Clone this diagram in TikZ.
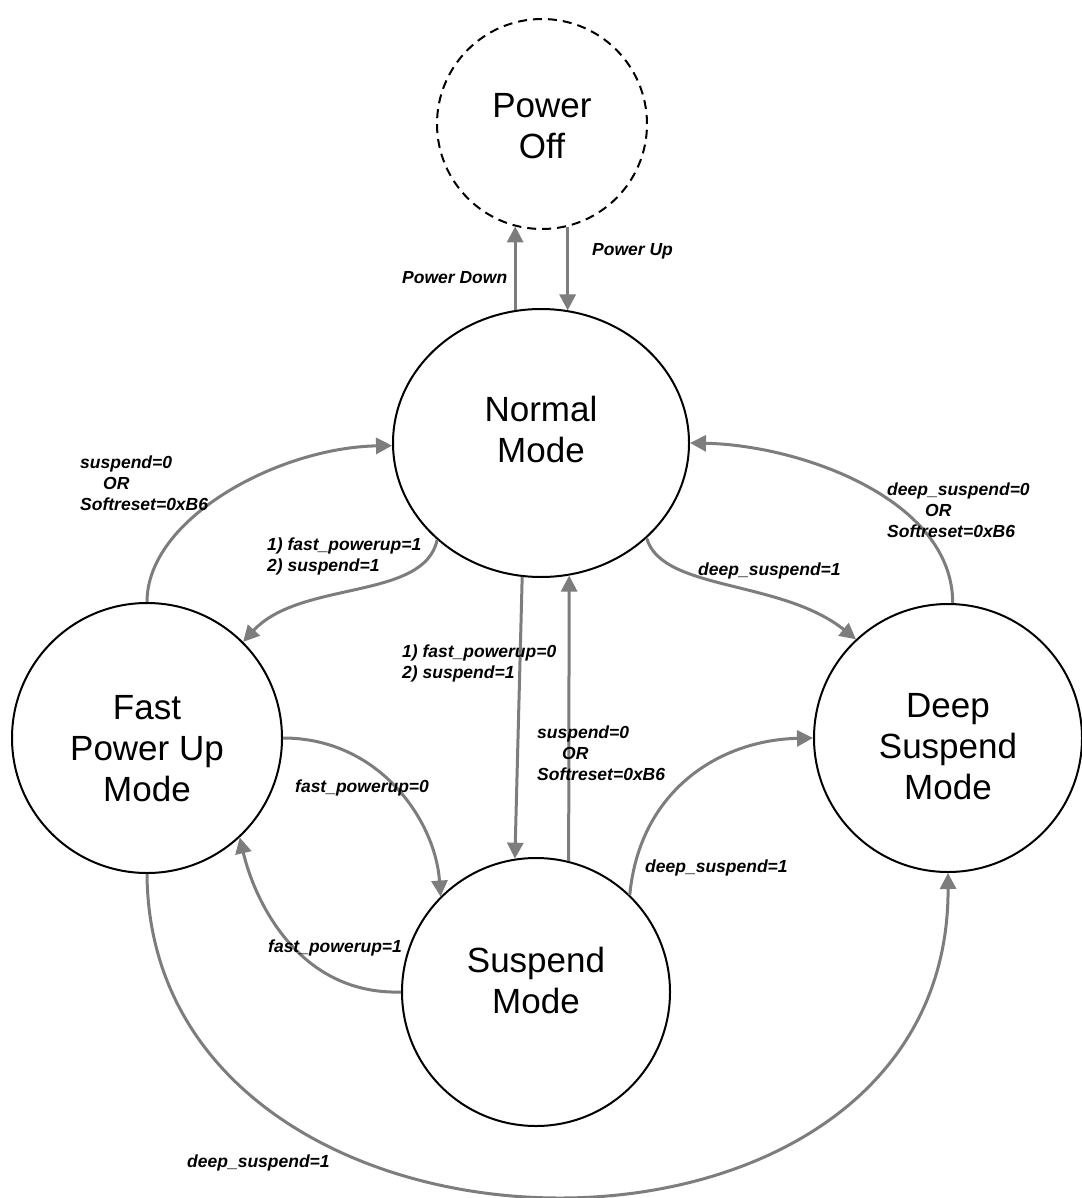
\documentclass[tikz,border=0pt]{standalone}
\usepackage{fontspec}
\setmainfont{Liberation Sans}
\usetikzlibrary{arrows.meta,shapes.geometric}
\definecolor{arrowgray}{RGB}{125,125,125}
\newcommand{\lbltext}[1]{\begin{tabular}[t]{@{}l@{}}#1\end{tabular}}
\begin{document}
\begin{tikzpicture}[x=1pt,y=-1pt,
  state/.style={circle, draw=black, line width=2pt, inner sep=0pt, minimum size=268pt},
  stext/.style={font=\fontsize{35}{41}\selectfont, align=center, inner sep=0pt},
  arr/.style={draw=arrowgray, line width=3pt, -{Triangle[length=16pt,width=16pt]}},
  lbl/.style={font=\fontsize{17.5}{21}\selectfont\bfseries\itshape, anchor=base west, inner sep=0pt}]
\useasboundingbox[fill=white] (0,0) rectangle (1081,1198);

% states
\node[state, dashed, dash pattern=on 9pt off 6pt, minimum size=210pt,
      label={[stext,yshift=-2pt]center:Power\\Off}] (off) at (542,124) {};
\node[ellipse, draw=black, line width=2pt, inner sep=0pt, minimum width=296pt, minimum height=268pt,
      label={[stext,yshift=14pt]center:Normal\\Mode}] (normal) at (541,443) {};
\node[state, minimum size=270pt,
      label={[stext,yshift=-11pt]center:Fast\\Power Up\\Mode}] (fast) at (147,738) {};
\node[state,
      label={[stext,yshift=-9pt]center:Deep\\Suspend\\Mode}] (deep) at (948,738) {};
\node[state,
      label={[stext,yshift=12pt]center:Suspend\\Mode}] (suspend) at (536,992) {};

% transitions
\draw[arr] (normal.101) -- (normal.101 |- off.255);
\draw[arr] (off.284) -- (off.284 |- normal.78);
\draw[arr] (fast.north) .. controls +(0,-84) and +(-113,2) .. (normal.181);
\draw[arr] (normal.223) .. controls +(-13,61) and +(57,-62) .. (fast.45);
\draw[arr] (normal.262) -- (suspend.99);
\draw[arr] (suspend.76) -- (normal.282);
\draw[arr] (normal.318) .. controls +(15,53) and +(-75,-60) .. (deep.133);
\draw[arr] (deep.88) .. controls +(0,-104) and +(110,2) .. (normal.east);
\draw[arr] (fast.0) .. controls +(97,0) and +(-5,-75) .. (suspend.135);
\draw[arr] (suspend.west) .. controls +(-102,3) and +(15,64) .. (fast.313);
\draw[arr] (suspend.46) .. controls +(10,-105) and +(-93,2) .. (deep.west);
\draw[arr] (fast.south) .. controls +(3,422) and +(2,438) .. (deep.south);

% labels
\node[lbl] (lpd) at (402,283) {\lbltext{Power Down}};
\node[lbl] (lpu) at (592,255) {\lbltext{Power Up}};
\node[lbl] (lfn) at (80,468) {\lbltext{suspend=0\\\hspace{23pt}OR\\Softreset=0xB6}};
\node[lbl] (lnf) at (267,550) {\lbltext{1) fast\_powerup=1\\2) suspend=1}};
\node[lbl] (lns) at (402,657) {\lbltext{1) fast\_powerup=0\\2) suspend=1}};
\node[lbl] (lsn) at (537,738) {\lbltext{suspend=0\\\hspace{25pt}OR\\Softreset=0xB6}};
\node[lbl] (lnd) at (698,575) {\lbltext{deep\_suspend=1}};
\node[lbl] (ldn) at (887,495) {\lbltext{deep\_suspend=0\\\hspace{38pt}OR\\Softreset=0xB6}};
\node[lbl] (lfs) at (295,792) {\lbltext{fast\_powerup=0}};
\node[lbl] (lsf) at (268,952) {\lbltext{fast\_powerup=1}};
\node[lbl] (lsd) at (645,872) {\lbltext{deep\_suspend=1}};
\node[lbl] (lfd) at (187,1167) {\lbltext{deep\_suspend=1}};
\end{tikzpicture}
\end{document}
